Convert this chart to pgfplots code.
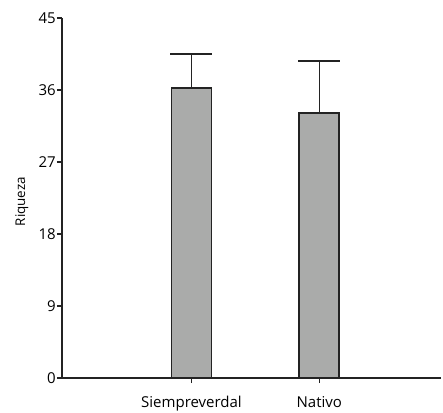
\documentclass[border=0pt]{standalone}
\usepackage{pgfplots}
\pgfplotsset{compat=1.18}
\usepackage{fontspec}
\setmainfont{Open Sans}
\definecolor{barfill}{RGB}{170,171,170}
\definecolor{edge}{RGB}{35,35,35}
\begin{document}
\begin{tikzpicture}
\path[use as bounding box] (-62pt,-34pt) rectangle (381pt,378pt);
\begin{axis}[
  at={(0,0)}, anchor=south west,
  scale only axis, width=379pt, height=360pt,
  xmin=-1.013, xmax=1.952, ymin=0, ymax=45,
  axis lines*=left,
  ytick={0,9,18,27,36,45},
  xtick={0,1}, xticklabels={Siempreverdal,Nativo},
  tick align=outside, major tick length=5pt,
  tick style={edge, line width=1.5pt},
  axis line style={edge, line width=1.6pt},
  /pgf/number format/assume math mode=true,
  tick label style={font=\fontsize{15}{18}\selectfont},
  yticklabel style={inner sep=1pt},
  xticklabel style={yshift=-10pt},
  ylabel={Riqueza},
  ylabel style={font=\fontsize{13.4}{16}\selectfont, at={(axis description cs:-0.106,0.49)}, anchor=center},
  clip=false,
]
\addplot[ybar, bar width=0.313, fill=barfill, draw=edge, line width=1.8pt,
  error bars/.cd, y dir=plus, y explicit,
  error bar style={edge, line width=1.6pt},
  error mark=|,
  error mark options={edge, line width=1.6pt, mark size=21pt}]
  coordinates {(0,36.3) +- (0,4.2) (1,33.1) +- (0,6.55)};
\end{axis}
\end{tikzpicture}
\end{document}
